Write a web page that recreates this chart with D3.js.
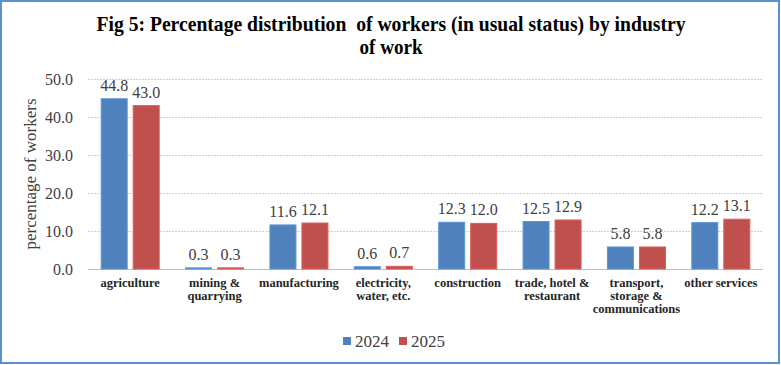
<!DOCTYPE html>
<html>
<head>
<meta charset="utf-8">
<script src="https://cdn.jsdelivr.net/npm/d3@7"></script>
<style>
  body { margin: 0; background: #fff; }
</style>
</head>
<body>
<div id="chart"></div>
<script>
var categories = ['agriculture', 'mining &\nquarrying', 'manufacturing',
                  'electricity,\nwater, etc.', 'construction',
                  'trade, hotel &\nrestaurant',
                  'transport,\nstorage &\ncommunications', 'other services'];
var series_names = ['2024', '2025'];
var values_2024 = [44.8, 0.3, 11.6, 0.6, 12.3, 12.5, 5.8, 12.2];
var values_2025 = [43.0, 0.3, 12.1, 0.7, 12.0, 12.9, 5.8, 13.1];
var y_ticks = [0, 10, 20, 30, 40, 50];
var colors = ['#4f81bd', '#c0504d'];

var FONT = '"Liberation Serif", "Times New Roman", serif';
var WIDTH = 781, HEIGHT = 365;
var margin = {left: 88, right: 18, top: 79, bottom: 96};

var svg = d3.select('#chart').append('svg')
    .attr('width', WIDTH)
    .attr('height', HEIGHT)
    .style('font-family', FONT);

// outer frame
svg.append('rect')
    .attr('x', 1).attr('y', 1)
    .attr('width', WIDTH - 3).attr('height', HEIGHT - 3)
    .attr('fill', '#fff')
    .attr('stroke', '#5b8fd0')
    .attr('stroke-width', 2);

var title = svg.append('text')
    .attr('text-anchor', 'middle')
    .attr('font-weight', 'bold')
    .attr('font-size', 21)
    .attr('fill', '#000');
title.append('tspan').attr('x', 391).attr('y', 31)
    .attr('textLength', 589)
    .attr('lengthAdjust', 'spacingAndGlyphs')
    .text('Fig 5: Percentage distribution\u00a0 of workers (in usual status) by industry');
title.append('tspan').attr('x', 391).attr('y', 54)
    .attr('textLength', 63)
    .attr('lengthAdjust', 'spacingAndGlyphs')
    .text('of work');

var x = d3.scaleBand()
    .domain(d3.range(categories.length))
    .range([margin.left, WIDTH - margin.right]);

var y = d3.scaleLinear()
    .domain([0, 50])
    .range([HEIGHT - margin.bottom, margin.top]);

// gridlines
svg.append('g')
    .selectAll('line')
    .data(y_ticks)
    .join('line')
        .attr('x1', margin.left)
        .attr('x2', WIDTH - margin.right)
        .attr('y1', (d) => y(d) + 0.5)
        .attr('y2', (d) => y(d) + 0.5)
        .attr('stroke', (d) => d == 0 ? '#bfbfbf' : '#d0d0d0')
        .attr('stroke-dasharray', (d) => d == 0 ? null : '2,1');

var y_axis = svg.append('g')
    .attr('transform', 'translate(' + (margin.left - 12) + ',0)')
    .call(d3.axisLeft(y).tickValues(y_ticks).tickSize(0)
              .tickFormat(d3.format('.1f')));
y_axis.select('.domain').remove();
y_axis.attr('font-family', null).attr('font-size', null);
y_axis.selectAll('text')
    .style('font-family', FONT)
    .attr('font-size', 16)
    .attr('fill', '#404040');

svg.append('text')
    .attr('transform', 'translate(36,' + y(25) + ') rotate(-90)')
    .attr('text-anchor', 'middle')
    .attr('font-size', 17)
    .attr('fill', '#404040')
    .text('percentage of workers');

var series = [values_2024, values_2025];
var BAR_W = 26, BAR_GAP = 6;

series.forEach((vals, si) => {
  var offset = si == 0 ? -BAR_GAP / 2 - BAR_W : BAR_GAP / 2;
  var g = svg.append('g');
  g.selectAll('rect')
      .data(vals)
      .join('rect')
          .attr('x', (d, i) => x(i) + x.bandwidth() / 2 + offset)
          .attr('y', (d) => y(d))
          .attr('width', BAR_W)
          .attr('height', (d) => y(0) - y(d))
          .attr('fill', colors[si])
          .attr('stroke', d3.color(colors[si]).brighter(0.4))
          .attr('stroke-width', 1);
  g.selectAll('text')
      .data(vals)
      .join('text')
          .attr('x', (d, i) => x(i) + x.bandwidth() / 2 + offset + BAR_W / 2)
          .attr('y', (d) => y(d) - 8)
          .attr('text-anchor', 'middle')
          .attr('font-size', 16)
          .attr('fill', '#404040')
          .text((d) => d.toFixed(1));
});

// category labels
var cat_labels = svg.append('g')
    .selectAll('text')
    .data(categories)
    .join('text')
        .attr('text-anchor', 'middle')
        .attr('font-size', 12.5)
        .attr('font-weight', 'bold')
        .attr('fill', '#262626');
cat_labels.each(function(d, i) {
  var t = d3.select(this);
  d.split('\n').forEach((line, li) => {
    t.append('tspan')
        .attr('x', x(i) + x.bandwidth() / 2)
        .attr('y', 287 + li * 13)
        .text(line);
  });
});

// legend
var legend = svg.append('g').attr('transform', 'translate(343,341)');
series_names.forEach((name, i) => {
  var lg = legend.append('g').attr('transform', 'translate(' + (i * 56) + ',0)');
  lg.append('rect')
      .attr('x', 0).attr('y', -4)
      .attr('width', 8).attr('height', 8)
      .attr('fill', colors[i]);
  lg.append('text')
      .attr('x', 12).attr('y', 5.5)
      .attr('font-size', 17)
      .attr('fill', '#404040')
      .text(name);
});
</script>
</body>
</html>
